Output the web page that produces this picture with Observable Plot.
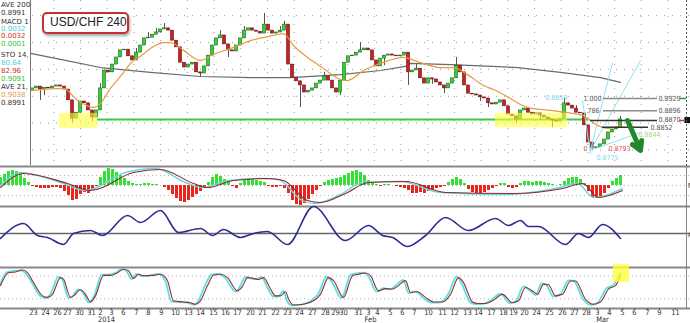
<!DOCTYPE html>
<html><head><meta charset="utf-8">
<script src="https://cdn.jsdelivr.net/npm/d3@7"></script>
<script src="https://cdn.jsdelivr.net/npm/@observablehq/plot@0.6"></script>
<style>
body{margin:0;background:#fff;}
#wrap{position:relative;width:690px;height:323px;overflow:hidden;background:#fff;font-family:"Liberation Sans",Arial,sans-serif;}
#wrap svg{position:absolute;left:0;}
#legend{position:absolute;left:0;top:0;width:30px;height:165px;background:#fff;border-right:1px solid #777;overflow:hidden;}
#legend div{position:absolute;left:1px;font-size:7px;line-height:7px;white-space:nowrap;font-family:"DejaVu Sans",sans-serif;}
#title{position:absolute;left:42px;top:12px;box-sizing:border-box;width:87px;height:22px;border:2.5px solid #c23434;border-radius:5px;background:#fff;box-shadow:1px 2px 3px rgba(0,0,0,.35);font-size:12px;line-height:17px;padding-left:6px;color:#222;}
</style></head>
<body>
<div id="wrap"></div>
<script>
// ---------------- DATA ----------------
const title = "USD/CHF 240";
const legendLines = ["AVE 200","0.8991","MACD 1","0.0032","0.0032","0.0001","STO 14,","80.64","82.96","0.9091","AVE 21,","0.9038","0.8991"];

// 240-minute closes (candle i)
const firstOpen = 0.8950;
const closes = [
0.8956,0.8961,0.8953,0.8958,0.8956,0.8961,0.8964,0.8961,0.8953,0.8924,
0.8875,0.8891,0.8921,0.8916,0.8897,0.8878,0.8897,0.8956,0.9004,0.8999,
0.9020,0.9039,0.9058,0.9060,0.9042,0.9031,0.9052,0.9071,0.9090,0.9092,
0.9100,0.9106,0.9114,0.9117,0.9111,0.9084,0.9066,0.9025,0.9012,0.9020,
0.9025,0.8999,0.8996,0.9015,0.9044,0.9071,0.9090,0.9098,0.9074,0.9058,
0.9055,0.9071,0.9090,0.9111,0.9117,0.9111,0.9108,0.9103,0.9127,0.9111,
0.9103,0.9106,0.9111,0.9127,0.9020,0.8985,0.8975,0.8964,0.8945,0.8950,
0.8956,0.8969,0.8977,0.8988,0.8977,0.8956,0.8945,0.8977,0.9025,0.9042,
0.9044,0.9052,0.9058,0.9063,0.9058,0.9031,0.9015,0.9036,0.9044,0.9047,
0.9044,0.9042,0.9044,0.9052,0.8999,0.9004,0.9009,0.8983,0.8969,0.8983,
0.8980,0.8972,0.8964,0.8956,0.8969,0.8983,0.9017,0.8999,0.8964,0.8942,
0.8940,0.8937,0.8932,0.8929,0.8916,0.8913,0.8918,0.8924,0.8908,0.8886,
0.8881,0.8873,0.8897,0.8902,0.8891,0.8886,0.8889,0.8883,0.8878,0.8873,
0.8870,0.8867,0.8875,0.8916,0.8910,0.8902,0.8891,0.8889,0.8857,0.8811,
0.8796,0.8798,0.8806,0.8819,0.8838,0.8846,0.8851,0.8873];
const wickHigh = [[17,0.8969],[26,0.9063],[29,0.9106],[31,0.9117],[33,0.9130],[47,0.9111],[53,0.9122],[58,0.9157],[62,0.9122],[63,0.9136],[73,0.8999],[82,0.9079],[96,0.9020],[106,0.9039],[133,0.8929],[136,0.8910],[147,0.8881]];
const wickLow = [[2,0.8924],[3,0.8937],[10,0.8865],[15,0.8867],[42,0.8985],[49,0.9039],[67,0.8905],[77,0.8937],[88,0.9017],[94,0.8964],[100,0.8967],[103,0.8942],[112,0.8921],[114,0.8905],[121,0.8862],[127,0.8870],[130,0.8851],[140,0.8793]];

const sma200 = [[-0.5,0.9050],[7,0.9034],[17,0.9012],[29.5,0.8999],[42,0.8988],[54.5,0.8985],[64.5,0.8985],[77,0.8993],[87,0.9004],[93.25,0.9015],[94.5,0.9023],[104.5,0.9020],[121.25,0.9012],[132,0.8999],[142,0.8985],[147,0.8972]];
const sma21 = [[-0.5,0.8950],[7.75,0.8956],[11.25,0.8924],[15.25,0.8905],[17,0.8916],[19.5,0.8956],[22,0.8988],[25.25,0.9031],[27,0.9042],[29.5,0.9063],[32.75,0.9079],[34.5,0.9079],[37.75,0.9058],[42,0.9031],[45.25,0.9047],[50.25,0.9066],[54.5,0.9084],[60.25,0.9098],[62.75,0.9103],[65.25,0.9071],[68.75,0.9039],[72,0.9015],[74.5,0.8996],[77,0.8980],[78.75,0.8977],[82.75,0.9004],[87,0.9023],[92.75,0.9039],[97,0.9025],[102,0.9012],[105.25,0.9012],[108.75,0.8993],[112.75,0.8964],[115.25,0.8953],[119.5,0.8929],[122,0.8913],[123.75,0.8905],[129.5,0.8897],[133.75,0.8891],[137.75,0.8883],[141.25,0.8857],[143.75,0.8849],[146.25,0.8854],[147,0.8857]];

const supportLine = [{p:0.8873, i1:16.25, i2:139}];
const highlightBoxes = [{i1:6.75,i2:16.25,p1:0.8849,p2:0.8889},{i1:115.75,i2:133.75,p1:0.8851,p2:0.8889}];
const fibLines = [{p:0.8929,i1:142.75,i2:156.25},{p:0.8896,i1:142.75,i2:156.25}];
const darkLines = [{p:0.8870,i1:139.5,i2:156.25},{p:0.8852,i1:142.5,i2:154}];
const fibTexts = [{t:"1.000",i:137.75,p:0.8929},{t:"786",i:138.75,p:0.8896},{t:"0.8929",i:156.5,p:0.8929},{t:"0.8896",i:156.5,p:0.8896},{t:"0.8870",i:156.5,p:0.8871},{t:"0.8852",i:154.5,p:0.8850}];
const greenTexts = [{t:"0.8844",i:151.5,p:0.8831}];
const redTexts = [{t:"0",i:137.75,p:0.8795},{t:"0.8793",i:144,p:0.8794}];
const cyanTexts = [{t:"0.8859",i:128.25,p:0.8932},{t:"0.8775",i:141,p:0.8771}];
const fanLines = [{i1:139.5,p1:0.8790,i2:145,p2:0.9025},{i1:139.5,p1:0.8790,i2:152,p2:0.9031},{i1:139.5,p1:0.8790,i2:152,p2:0.8838},{i1:137.5,p1:0.8924,i2:139.5,p2:0.8780}];
const arrowData = [{i1:148.75,p1:0.8870,i2:152,p2:0.8790}];
const gridPrices = [0.9151,0.9079,0.9007,0.8935,0.8863,0.8791];

// MACD histogram (pips), starting at candle index -8
const histStart = -8;
const macdHist = [8,11,14,15,14,11,7,3,
-1,-2,-3,-3,-3,-2,-2,-3,-6,-10,
-15,-14,-9,-7,-8,-5,-1,
8,14,17,16,13,10,7,4,2,
1,1,2,2,1,1,0,
-2,-5,-9,-13,-16,-17,-15,-12,-9,-6,-3,
3,8,11,9,6,3,
-1,-3,
2,5,7,6,5,4,3,
-1,-2,-2,-1,-3,
-8,-15,-19,-20,-18,-14,-9,-5,-1,
3,5,6,7,8,10,12,14,15,13,10,5,2,
1,-1,1,1,0,-1,-2,-3,
-5,-8,-8,-7,-8,-6,-5,-3,-2,-1,
3,6,8,6,2,
-4,-7,-8,-8,-7,-5,-3,-1,
2,2,
-2,-3,-2,
2,4,4,3,4,4,3,2,1,
0,1,
4,7,8,8,6,2,
-6,-12,-13,-11,-8,-3,
4,7,10];
const macdMain = [[-8,-2],[-2.25,12],[8.75,2],[14.5,-5],[25.25,13],[32,16],[40.25,2],[43.75,-2],[50.25,5],[58.75,7],[62.75,5],[68.75,-15],[72,-17],[78.25,-8],[84,3],[93.25,4],[103.25,-7],[120,-8],[132.5,-3],[137.5,2],[141.5,-12],[147.5,-5]];
const macdSignal = [[-8,0],[-3,13],[7,3],[13.25,-5],[23.25,13],[30.75,17],[38.25,3],[42.5,-2],[49,5],[57.5,7],[61.5,6],[67,-14],[70.75,-18],[77,-9],[82.5,3],[92,4],[102,-7],[118.25,-9],[130.75,-3],[136.25,2],[140.25,-12],[147.5,-3]];

// middle oscillator
const oscLevel = 50;
const osc = [[-8,45],[-2.25,60],[1.25,48],[3.75,46],[7.75,39],[10.25,50],[14.5,53],[17.5,48],[23.75,68],[27,61],[32,73],[36.5,51],[42,55],[45,48],[47.75,54],[52,46],[55.25,50],[58.75,52],[63.75,39],[70.25,77],[78.25,43],[84,58],[87.5,48],[90,46],[93.75,37],[98.25,48],[103.25,66],[109,53],[115.75,65],[119,58],[122,63],[124,57],[126.5,57],[133.25,39],[136.5,50],[139,46],[142.5,59],[147,45]];

// stochastic
const stochLevels = [80,20];
const stochD = [[-8,55],[-6,89],[-4.25,91],[-2.5,96],[-1.25,89],[0.25,63],[2.5,28],[3.75,24],[5,32],[7,76],[7.75,72],[9.5,24],[10.25,28],[12,44],[13.25,32],[14.5,12],[15.75,28],[17.75,82],[19.5,82],[21.25,89],[22.75,98],[24,94],[25.25,74],[26.5,85],[27.75,81],[30.25,82],[32,85],[33.75,68],[35.25,15],[37.75,12],[39.5,10],[40.75,6],[42,15],[43.75,55],[45.25,82],[47,85],[48.75,76],[51.25,41],[52.5,53],[53.75,76],[55.25,74],[56.5,71],[57.75,76],[59.5,46],[60.75,28],[62,28],[63.25,39],[64,20],[65.25,4],[67.75,6],[70.25,15],[72,32],[74,76],[75.25,68],[77.75,24],[80,81],[81.5,85],[83.25,88],[84.5,81],[86.5,41],[88.25,47],[90,46],[91.5,55],[93.25,68],[94.5,37],[96.25,39],[98.25,24],[100.25,12],[102.5,12],[104.5,32],[106.5,76],[107.75,63],[110,12],[111.5,8],[113.25,8],[115,15],[117.5,32],[120,10],[121.5,15],[123.25,50],[125,41],[126.25,32],[127.75,59],[129,57],[130.75,28],[132.5,32],[134.5,67],[135.75,67],[138.25,19],[140.25,6],[142,12],[144,46],[145.75,55],[147,81]];
const stochK = [[-8,60],[-6.5,90],[-3,95],[-1.75,88],[0,60],[2,27],[3.5,22],[4.5,33],[6.5,78],[7.5,70],[9,22],[10,27],[11.5,45],[13,30],[14,10],[15.5,30],[17.25,84],[19,84],[21,90],[22.25,99],[23.5,93],[24.75,72],[26,86],[27.5,80],[30,83],[31.5,86],[33.25,66],[34.75,13],[37.5,11],[39,9],[40.5,5],[41.5,16],[43.25,58],[44.75,84],[46.5,86],[48.25,74],[50.75,39],[52,55],[53.25,78],[55,73],[56,72],[57.25,77],[59,44],[60.25,26],[61.5,27],[62.75,41],[63.5,18],[64.75,3],[67.25,5],[69.75,16],[71.5,34],[73.5,79],[74.75,66],[77.25,22],[79.5,83],[81,87],[82.75,89],[84,79],[86,39],[87.75,48],[89.5,45],[91,57],[92.75,70],[94,35],[95.75,40],[97.75,22],[99.75,10],[102,11],[104,34],[106,79],[107.25,61],[109.5,10],[111,6],[112.75,7],[114.5,16],[117,34],[119.5,8],[121,16],[122.75,53],[124.5,40],[125.75,30],[127.25,61],[128.5,56],[130.25,26],[132,33],[134,69],[135.25,68],[137.75,17],[139.75,4],[141.5,13],[143.5,48],[145.25,57],[146.75,84],[147.25,88]];
const stochBox = [{i1:145.25,i2:149.25,v1:63,v2:110}];

// x-axis tick labels
const tickLabels = ["23","24","26","27","30","31","2","3","6","7","8","9","10","13","14","15","16","17","20","21","22","23","24","27","28","29","30","31","3","4","5","6","7","10","11","12","13","14","17","18","19","20","24","25","26","27","28","3","4","5","6","7","9","11"];
const tickIdx = [0.25,3.25,6.25,8.75,11.75,14.75,17,19.75,22.75,26,29,32.25,35.75,39,42,45.25,48.25,51.25,54.5,57.5,60.75,63.75,66.75,70,73.25,75.75,77.75,81.5,84,86.25,89.5,92.5,95.5,99,102.5,105.5,108.75,111.5,114.75,117.75,120.25,123,126,129.25,132.5,135.5,138.5,141.25,144.25,147.5,150.5,153.75,156.75,160.75];
const monthLabels = ["2014","Feb","Mar"];
const monthIdx = [18.5,84.5,142.5];

// ---------------- SCALES / LAYOUT ----------------
const X_DOMAIN = [-8, 164.5];
const PRICE_DOMAIN = [0.874676, 0.919164];
const MACD_DOMAIN = [-21, 19];
const OSC_DOMAIN = [16, 77];
const STOCH_DOMAIN = [-5.263, 100];
const RIGHT_EDGE = 163.5;
const W = 690;
const FONT_AX = "Liberation Sans Narrow, DejaVu Sans Condensed, sans-serif";
const GREEN = "#2fd42f", RED = "#cc1f1f";

const pts = a => a.map(([i, v]) => ({i, v}));
function base(h, yDomain, extra = {}) {
  return Object.assign({
    width: W, height: h, marginTop: 0, marginRight: 0, marginBottom: 0, marginLeft: 0,
    x: {domain: X_DOMAIN, axis: null},
    y: {domain: yDomain, axis: null},
    style: {background: "transparent", overflow: "visible"}
  }, extra);
}

const hiMap = new Map(wickHigh), loMap = new Map(wickLow);
const candles = closes.map((c, i) => {
  const o = i === 0 ? firstOpen : closes[i - 1];
  return {i, open: o, close: c,
    high: Math.max(o, c, hiMap.has(i) ? hiMap.get(i) : -Infinity),
    low: Math.min(o, c, loMap.has(i) ? loMap.get(i) : Infinity)};
});
const gridX = d3.range(X_DOMAIN[0] + 6.675, RIGHT_EDGE, 6.675);

const main = Plot.plot(base(166, PRICE_DOMAIN, {marks: [
  Plot.ruleY(gridPrices, {stroke: "#9a9a9a", strokeDasharray: "1,7"}),
  Plot.ruleX(gridX, {stroke: "#9a9a9a", strokeDasharray: "1,7"}),
  Plot.ruleY(supportLine, {y: "p", x1: "i1", x2: "i2", stroke: "#3ccc3c", strokeWidth: 2}),
  Plot.line(pts(sma200), {x: "i", y: "v", stroke: "#6a6a6a", strokeWidth: 1.2}),
  Plot.ruleX(candles, {x: "i", y1: "low", y2: "high", stroke: "#555", strokeWidth: 1}),
  Plot.rect(candles.filter(d => d.close >= d.open), {x1: d => d.i - 0.4, x2: d => d.i + 0.4, y1: "open", y2: "close", fill: GREEN, stroke: "#1d4a1d", strokeWidth: 0.5}),
  Plot.rect(candles.filter(d => d.close < d.open), {x1: d => d.i - 0.4, x2: d => d.i + 0.4, y1: "open", y2: "close", fill: RED, stroke: "#4a1414", strokeWidth: 0.5}),
  Plot.line(pts(sma21), {x: "i", y: "v", stroke: "#e99a3e", strokeWidth: 1.2, curve: "monotone-x"}),
  Plot.rect(highlightBoxes, {x1: "i1", x2: "i2", y1: "p1", y2: "p2", fill: "#ffff3a", fillOpacity: 0.6}),
  Plot.link(fanLines, {x1: "i1", y1: "p1", x2: "i2", y2: "p2", stroke: "#8fe2ee", strokeWidth: 1}),
  Plot.ruleY(fibLines, {y: "p", x1: "i1", x2: "i2", stroke: "#8a8a8a", strokeWidth: 1.5}),
  Plot.ruleY(darkLines, {y: "p", x1: "i1", x2: "i2", stroke: "#333", strokeWidth: 1.5}),
  Plot.arrow(arrowData, {x1: "i1", y1: "p1", x2: "i2", y2: "p2", stroke: "#23882b", strokeWidth: 5, headLength: 3}),
  Plot.text(fibTexts, {x: "i", y: "p", text: "t", fill: "#555", fontSize: 7, textAnchor: "start", fontFamily: FONT_AX}),
  Plot.text(greenTexts, {x: "i", y: "p", text: "t", fill: "#a6d66e", fontSize: 7, textAnchor: "start", fontFamily: FONT_AX}),
  Plot.text(redTexts, {x: "i", y: "p", text: "t", fill: "#d9534f", fontSize: 7, textAnchor: "start", fontFamily: FONT_AX}),
  Plot.text(cyanTexts, {x: "i", y: "p", text: "t", fill: "#7fd3ec", fontSize: 7, textAnchor: "start", fontFamily: FONT_AX}),
  Plot.ruleY([{p: 0.8929}], {y: "p", x1: 162, x2: RIGHT_EDGE, stroke: "#2a9a2a", strokeWidth: 1.5}),
  Plot.ruleY([{p: 0.8870}], {y: "p", x1: 161.8, x2: 163, stroke: "#c33", strokeWidth: 1.5}),
  Plot.rect([{p1: 0.8862, p2: 0.8878}], {x1: 163.1, x2: 165, y1: "p1", y2: "p2", fill: "#111"}),
  Plot.ruleX([RIGHT_EDGE], {stroke: "#555", strokeDasharray: "2,2"})
]}));

const histData = macdHist.map((v, k) => ({i: histStart + k, v}));
const macd = Plot.plot(base(40, MACD_DOMAIN, {marks: [
  Plot.ruleY([10, 0, -10], {stroke: "#b5b5b5", strokeDasharray: "1,3"}),
  Plot.ruleX(histData.filter(d => d.v > 0), {x: "i", y1: 0, y2: "v", stroke: "#33e033", strokeWidth: 3}),
  Plot.ruleX(histData.filter(d => d.v < 0), {x: "i", y1: 0, y2: "v", stroke: "#e8261e", strokeWidth: 3}),
  Plot.line(pts(macdSignal), {x: "i", y: "v", stroke: "#62d8e8", strokeWidth: 1.4, curve: "monotone-x"}),
  Plot.line(pts(macdMain), {x: "i", y: "v", stroke: "#9a2525", strokeWidth: 1.1, curve: "monotone-x"}),
  Plot.ruleY([MACD_DOMAIN[1], MACD_DOMAIN[0]], {stroke: "#888", strokeWidth: 2}),
  Plot.ruleX([RIGHT_EDGE], {stroke: "#888"}),
  Plot.text(["M"], {x: 163.9, y: 0, text: d => d, fontSize: 7, fill: "#333", textAnchor: "start"})
]}));

const mid = Plot.plot(base(61, OSC_DOMAIN, {marks: [
  Plot.ruleY([oscLevel], {stroke: "#666", strokeWidth: 1.3}),
  Plot.line(pts(osc), {x: "i", y: "v", stroke: "#2b2d93", strokeWidth: 1.6, curve: "monotone-x"}),
  Plot.ruleY([OSC_DOMAIN[0]], {stroke: "#888", strokeWidth: 2}),
  Plot.ruleX([RIGHT_EDGE], {stroke: "#888"}),
  Plot.text(["A"], {x: 163.9, y: oscLevel - 1, text: d => d, fontSize: 7, fill: "#333", textAnchor: "start"})
]}));

const ticks = tickLabels.map((t, k) => ({t, i: tickIdx[k]}));
const months = monthLabels.map((t, k) => ({t, i: monthIdx[k]}));
const stoch = Plot.plot(base(61, STOCH_DOMAIN, {marginTop: 6, marginBottom: 15, marks: [
  Plot.ruleY(stochLevels, {stroke: "#b5b5b5", strokeDasharray: "1,3"}),
  Plot.line(pts(stochK), {x: "i", y: "v", stroke: "#58e2e6", strokeWidth: 1.8, curve: "monotone-x"}),
  Plot.line(pts(stochD), {x: "i", y: "v", stroke: "#9a2e2e", strokeWidth: 1.1, curve: "monotone-x"}),
  Plot.rect(stochBox, {x1: "i1", x2: "i2", y1: "v1", y2: "v2", fill: "#ffff3a", fillOpacity: 0.8}),
  Plot.ruleY([STOCH_DOMAIN[0]], {stroke: "#888", strokeWidth: 2}),
  Plot.ruleX([RIGHT_EDGE], {y1: STOCH_DOMAIN[0], y2: 103, stroke: "#888"}),
  Plot.ruleX(ticks, {x: "i", y1: STOCH_DOMAIN[0], y2: STOCH_DOMAIN[0] - 5, stroke: "#666"}),
  Plot.text(ticks, {x: "i", text: "t", frameAnchor: "bottom", dy: 6, fontSize: 7.5, fill: "#333", fontFamily: FONT_AX}),
  Plot.text(months, {x: "i", text: "t", frameAnchor: "bottom", dy: 13.5, fontSize: 7.5, fill: "#333", fontFamily: FONT_AX})
]}));

const wrap = document.getElementById("wrap");
[[main, 0], [macd, 166], [mid, 206], [stoch, 262]].forEach(([svg, top]) => {
  svg.style.position = "absolute";
  svg.style.top = top + "px";
  svg.style.left = "0px";
  wrap.appendChild(svg);
});

// legend overlay
const legendColors = ["#333","#333","#333","#3fcfe0","#d03030","#33c233","#333","#3fcfe0","#d03030","#33c233","#333","#e39a4a","#333"];
const legendTops = [1.5,9.5,18.5,25.5,33,40.5,51.5,59.5,67.5,75.5,84,92,100];
const lg = document.createElement("div");
lg.id = "legend";
legendLines.forEach((t, k) => {
  const d = document.createElement("div");
  d.textContent = t;
  d.style.top = legendTops[k] + "px";
  d.style.color = legendColors[k];
  lg.appendChild(d);
});
wrap.appendChild(lg);

const tt = document.createElement("div");
tt.id = "title";
tt.textContent = title;
wrap.appendChild(tt);
</script>
</body></html>
